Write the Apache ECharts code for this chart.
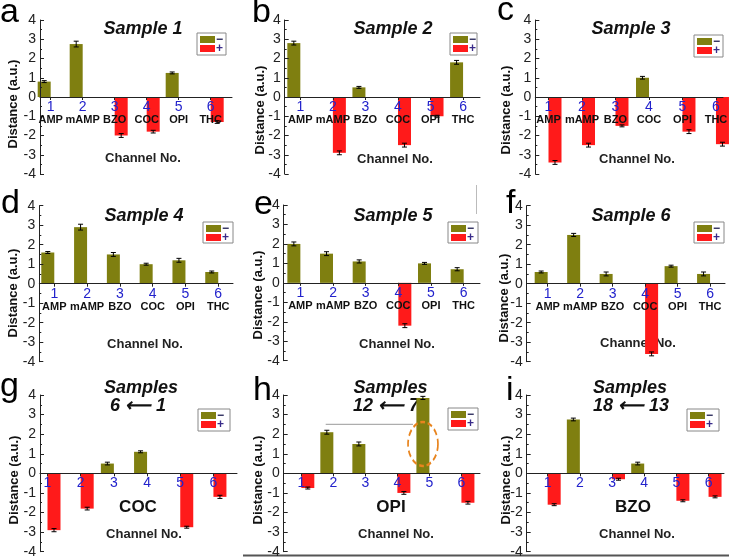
<!DOCTYPE html>
<html><head><meta charset="utf-8">
<script src="https://cdn.jsdelivr.net/npm/echarts@6/dist/echarts.min.js"></script>
<style>html,body{margin:0;padding:0;background:#fff}#c{width:729px;height:557px}</style>
</head><body><div id="c"></div><script>
// ---------- data ----------
const channelNums = ['1','2','3','4','5','6'];
const channelNames = ['AMP','mAMP','BZO','COC','OPI','THC'];
const panelLetters = ['a','b','c','d','e','f','g','h','i'];
const panelTitles = ['Sample 1','Sample 2','Sample 3','Sample 4','Sample 5','Sample 6','Samples','Samples','Samples'];
const panelSubtitles = ['','','','','','','6 \u27F5 1','12 \u27F5 7','18 \u27F5 13'];
const panelAnalytes = ['','','','','','','COC','OPI','BZO'];
const legendNames = ['\u2212','+'];
const yTicks = [-4,-3,-2,-1,0,1,2,3,4];

const vals_a = [0.8, 2.75, -2.0, -1.8, 1.25, -1.3];
const err_a  = [0.05, 0.15, 0.1, 0.07, 0.05, 0.07];
const vals_b = [2.8, -2.9, 0.5, -2.5, -1.0, 1.8];
const err_b  = [0.1, 0.1, 0.05, 0.1, 0.05, 0.1];
const vals_c = [-3.4, -2.5, -1.5, 1.0, -1.8, -2.45];
const err_c  = [0.1, 0.1, 0.05, 0.07, 0.1, 0.1];
const vals_d = [1.6, 2.9, 1.5, 1.0, 1.2, 0.6];
const err_d  = [0.05, 0.15, 0.1, 0.05, 0.1, 0.05];
const vals_e = [2.0, 1.5, 1.1, -2.2, 1.0, 0.7];
const err_e  = [0.1, 0.1, 0.08, 0.1, 0.05, 0.08];
const vals_f = [0.6, 2.5, 0.5, -3.6, 0.9, 0.5];
const err_f  = [0.05, 0.08, 0.1, 0.1, 0.05, 0.1];
const vals_g = [-2.9, -1.8, 0.5, 1.1, -2.75, -1.2];
const err_g  = [0.08, 0.07, 0.07, 0.05, 0.05, 0.08];
const vals_h = [-0.75, 2.1, 1.5, -1.0, 3.85, -1.5];
const err_h  = [0.05, 0.1, 0.1, 0.07, 0.08, 0.07];
const vals_i = [-1.6, 2.75, -0.3, 0.5, -1.4, -1.2];
const err_i  = [0.05, 0.07, 0.05, 0.07, 0.05, 0.05];

const panelValues = [vals_a, vals_b, vals_c, vals_d, vals_e, vals_f, vals_g, vals_h, vals_i];
const panelErrors = [err_a, err_b, err_c, err_d, err_e, err_f, err_g, err_h, err_i];

// ---------- layout ----------
const OLIVE = '#7f7f10', RED = '#ff1a1a', BLUE = '#2222cc';
const FONT = '"Liberation Sans", Arial, sans-serif';
// [left, top, width, height, xmin, xmax]
const grids = [
  [40, 20, 192, 154, 0.666, 6.666],
  [284.7, 20, 195.3, 154, 0.52, 6.52],
  [535.3, 20, 187.7, 154, 0.606, 6.21],
  [39.3, 205.7, 193.7, 156, 0.543, 6.45],
  [283.7, 205, 196.3, 155.7, 0.49, 6.5],
  [526.7, 205.7, 198.3, 156, 0.354, 6.46],
  [40, 395, 197, 156.7, 0.774, 6.71],
  [283.7, 395, 196.3, 156.7, 0.45, 6.58],
  [526.7, 395, 197.3, 156.7, 0.348, 6.48]
];
const letterPos = [[0,13],[252,13],[497,11],[1,204],[254,205],[506,204],[0,387],[253,391],[506,391]];
const titlePos = [[143,29],[393,29],[631,29],[144,216],[393,216],[631,216],[141,388.5],[390.5,388],[630,388]];
const subPos = [null,null,null,null,null,null,[138,406.5],[386,406],[631,406]];
const legendPos = [[197,33,29,22],[450,33,27,22],[694,35,29,22],[203,222,30,21],[448,222,30,21],[694,222,30,21],[198,409,32,22],[448,408,30,22],[687,409,32,22]];
const ynamePos = [[13,104],[260,110],[506,110],[13,293],[258,295],[504,298],[14,480],[258,480],[506,480]];
const channelPos = [[143,158],[395,159],[637,159],[145,344],[397,344],[638,343],[144,534],[396,534],[637,534]];
const analytePos = [null,null,null,null,null,null,[138,507],[391,507],[633,507]];

const chart = echarts.init(document.getElementById('c'), null, {renderer:'canvas'});

const option = {
  animation: false,
  backgroundColor: '#fff',
  grid: [], xAxis: [], yAxis: [], series: [], graphic: []
};

function errItem(params, api){
  const x = api.value(0), v = api.value(1), e = api.value(2);
  const off = v >= 0 ? -6.5 : 6.5;
  const p1 = api.coord([x, v + e]);
  const p2 = api.coord([x, v - e]);
  const cx = p1[0] + off;
  const st = {stroke:'#000', lineWidth:1};
  return {type:'group', children:[
    {type:'line', shape:{x1:cx, y1:p1[1], x2:cx, y2:p2[1]}, style:st},
    {type:'line', shape:{x1:cx-2.5, y1:p1[1], x2:cx+2.5, y2:p1[1]}, style:st},
    {type:'line', shape:{x1:cx-2.5, y1:p2[1], x2:cx+2.5, y2:p2[1]}, style:st}
  ]};
}

grids.forEach((g, i) => {
  const showNames = i < 6;
  option.grid.push({left:g[0], top:g[1], width:g[2], height:g[3], containLabel:false, outerBoundsMode:'none'});
  option.xAxis.push({
    type:'value', gridIndex:i, min:g[4], max:g[5], position:'bottom', z:10,
    offset: -g[3] / 2,
    splitLine:{show:false},
    axisLine:{show:true, onZero:false, lineStyle:{color:'#222', width:1}},
    axisTick:{show:true, customValues:[1,2,3,4,5,6], length:3, inside:false, lineStyle:{color:'#222'}},
    axisLabel:{
      customValues:[1,2,3,4,5,6], margin:3,
      formatter: (v) => {
        const k = Math.round(v) - 1;
        return showNames ? '{n|' + channelNums[k] + '}\n{m|' + channelNames[k] + '}' : '{n|' + channelNums[k] + '}';
      },
      rich:{
        n:{color:BLUE, fontSize:14, lineHeight:14, fontFamily:FONT},
        m:{color:'#111', fontSize:11, fontWeight:'bold', lineHeight:12, fontFamily:FONT}
      }
    }
  });
  option.yAxis.push({
    type:'value', gridIndex:i, min:-4, max:4, interval:1, z:10,
    splitLine:{show:false},
    axisLine:{show:true, onZero:false, lineStyle:{color:'#222', width:1}},
    axisTick:{show:true, inside:true, length:4, lineStyle:{color:'#222'}},
    minorTick:{show:true, splitNumber:2, length:2, lineStyle:{color:'#222'}},
    axisLabel:{color:'#222', fontSize:14, margin:4, fontFamily:FONT,
      formatter:(v)=> yTicks.indexOf(v) >= 0 ? String(v) : ''}
  });
  const vals = panelValues[i], errs = panelErrors[i];
  option.series.push({
    name:legendNames[0], type:'bar', xAxisIndex:i, yAxisIndex:i, barWidth:13, barGap:'0%',
    itemStyle:{color:OLIVE},
    data: vals.map((v,k) => [k+1, v > 0 ? v : '-'])
  });
  option.series.push({
    name:legendNames[1], type:'bar', xAxisIndex:i, yAxisIndex:i, barWidth:13, barGap:'0%',
    itemStyle:{color:RED},
    data: vals.map((v,k) => [k+1, v < 0 ? v : '-'])
  });
  option.series.push({
    type:'custom', xAxisIndex:i, yAxisIndex:i, z:5, renderItem:errItem,
    data: vals.map((v,k) => [k+1, v, errs[k]])
  });

  option.graphic.push({type:'text', x:letterPos[i][0], y:letterPos[i][1],
    style:{text:panelLetters[i], font:'34px ' + FONT, fill:'#000', align:'left', verticalAlign:'middle'}});
  option.graphic.push({type:'text', x:titlePos[i][0], y:titlePos[i][1],
    style:{text:panelTitles[i], font:'italic bold 18px ' + FONT, fill:'#111', align:'center', verticalAlign:'middle'}});
  if (subPos[i]) {
    option.graphic.push({type:'text', x:subPos[i][0], y:subPos[i][1],
      style:{text:panelSubtitles[i], font:'italic bold 18px ' + FONT, fill:'#111', align:'center', verticalAlign:'middle'}});
  }
  const L = legendPos[i];
  option.graphic.push({type:'rect', shape:{x:L[0], y:L[1], width:L[2], height:L[3]}, style:{fill:'#fff', stroke:'#888', lineWidth:1}});
  option.graphic.push({type:'rect', shape:{x:L[0]+3, y:L[1]+3, width:15, height:7}, style:{fill:OLIVE}});
  option.graphic.push({type:'rect', shape:{x:L[0]+3, y:L[1]+12, width:15, height:7}, style:{fill:RED}});
  option.graphic.push({type:'text', x:L[0]+19, y:L[1]+6.5, style:{text:legendNames[0], font:'bold 12px ' + FONT, fill:'#222255', align:'left', verticalAlign:'middle'}});
  option.graphic.push({type:'text', x:L[0]+19, y:L[1]+15.5, style:{text:legendNames[1], font:'bold 12px ' + FONT, fill:'#3a2c8a', align:'left', verticalAlign:'middle'}});
  option.graphic.push({type:'text', x:ynamePos[i][0], y:ynamePos[i][1], rotation:Math.PI/2,
    style:{text:'Distance (a.u.)', font:'bold 13px ' + FONT, fill:'#111', align:'center', verticalAlign:'middle'}});
  option.graphic.push({type:'text', x:channelPos[i][0], y:channelPos[i][1],
    style:{text:'Channel No.', font:'bold 13px ' + FONT, fill:'#222', align:'center', verticalAlign:'middle'}});
  if (analytePos[i]) {
    option.graphic.push({type:'text', x:analytePos[i][0], y:analytePos[i][1],
      style:{text:panelAnalytes[i], font:'bold 17px ' + FONT, fill:'#111', align:'center', verticalAlign:'middle'}});
  }
});

option.graphic.push({type:'line', shape:{x1:325.7, y1:424.3, x2:413, y2:424.3}, style:{stroke:'#999', lineWidth:1}});
option.graphic.push({type:'circle', x:423, y:444, scaleX:0.68, shape:{cx:0, cy:0, r:22},
  style:{fill:'none', stroke:'#e8841e', lineWidth:2.5, lineDash:[7,4], strokeNoScale:true}, z:10});
option.graphic.push({type:'line', shape:{x1:243, y1:555.5, x2:729, y2:555.5}, style:{stroke:'#555', lineWidth:2}});
option.graphic.push({type:'line', shape:{x1:476.5, y1:185, x2:476.5, y2:214}, style:{stroke:'#bbb', lineWidth:1}});

chart.setOption(option);
</script></body></html>
